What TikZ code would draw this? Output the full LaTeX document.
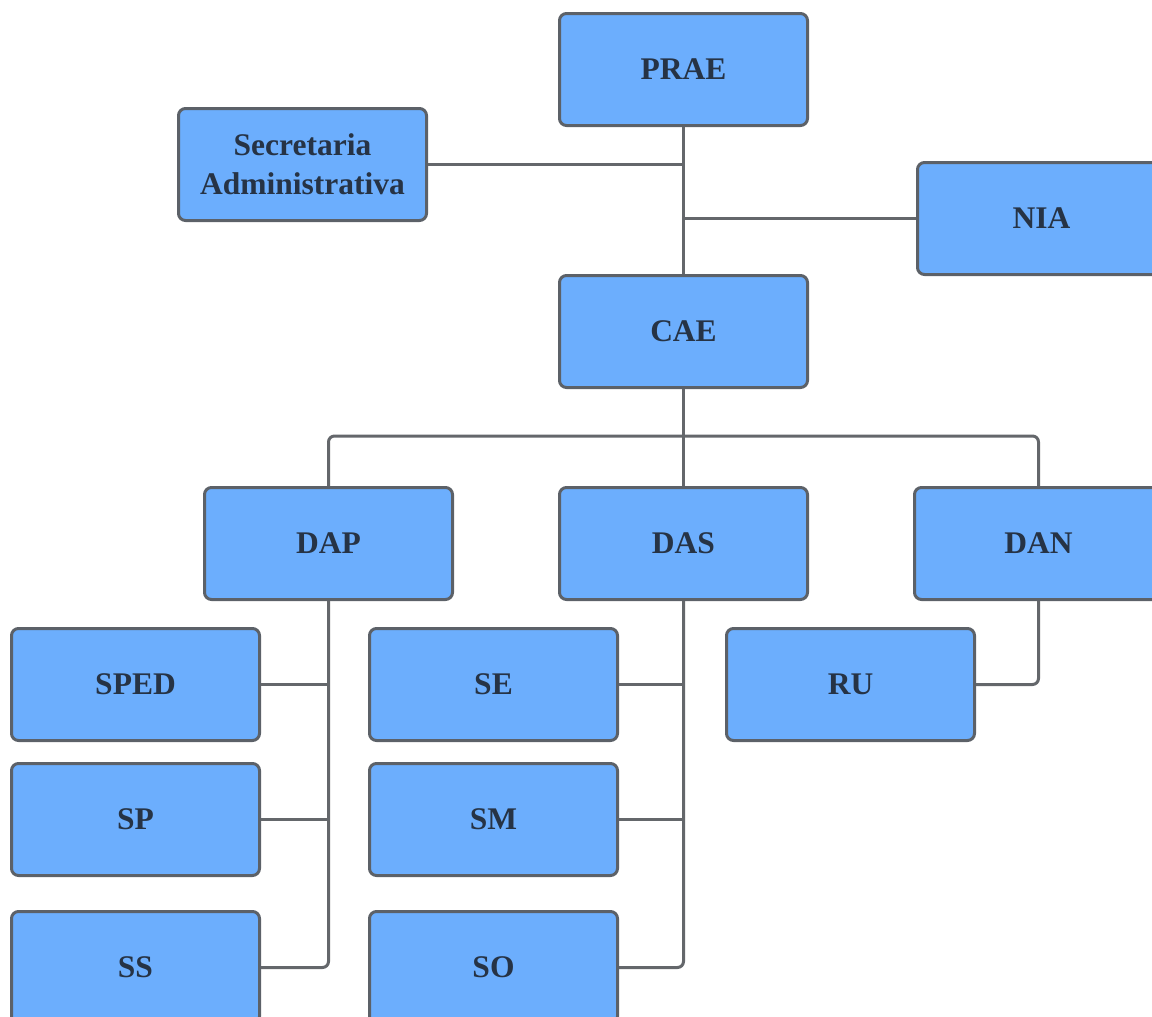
\documentclass[tikz,border=0pt]{standalone}
\usepackage{fontspec}
\setmainfont{Liberation Serif}
\begin{document}
\begin{tikzpicture}[x=1pt,y=-1pt,
  box/.style={draw=boxline, fill=boxfill, line width=3pt, rounded corners=7pt,
    minimum width=248pt, minimum height=112pt, inner sep=0pt, anchor=north west,
    font=\fontsize{31.5}{39}\selectfont\bfseries, text=txt, align=center},
  conn/.style={draw=linec, line width=3pt, rounded corners=6pt}]
\definecolor{boxfill}{HTML}{6CAEFD}
\definecolor{boxline}{HTML}{5C6168}
\definecolor{linec}{HTML}{64676B}
\definecolor{txt}{HTML}{263345}
\useasboundingbox (0,0) rectangle (1152,1017);
\node[box] (prae) at (558,12) {PRAE};
\node[box] (sec) at (177,107) {Secretaria\\Administrativa};
\node[box] (nia) at (916,161) {NIA};
\node[box] (cae) at (558,274) {CAE};
\node[box] (dap) at (203,486) {DAP};
\node[box] (das) at (558,486) {DAS};
\node[box] (dan) at (913,486) {DAN};
\node[box] (sped) at (10,627) {SPED};
\node[box] (se) at (368,627) {SE};
\node[box] (ru) at (725,627) {RU};
\node[box] (sp) at (10,762) {SP};
\node[box] (sm) at (368,762) {SM};
\node[box] (ss) at (10,910) {SS};
\node[box] (so) at (368,910) {SO};
\coordinate (bus) at (682,436);
\draw[conn] (prae.south) -- (cae.north);
\draw[conn] (sec.east) -- (sec.east -| prae.south);
\draw[conn] (nia.west) -- (nia.west -| prae.south);
\draw[conn] (cae.south) -- (das.north);
\draw[conn] (dap.north) |- (bus) -| (dan.north);
\draw[conn] (dap.south) |- (ss.east);
\draw[conn] (sped.east) -- (sped.east -| dap.south);
\draw[conn] (sp.east) -- (sp.east -| dap.south);
\draw[conn] (das.south) |- (so.east);
\draw[conn] (se.east) -- (se.east -| das.south);
\draw[conn] (sm.east) -- (sm.east -| das.south);
\draw[conn] (dan.south) |- (ru.east);
\end{tikzpicture}
\end{document}
